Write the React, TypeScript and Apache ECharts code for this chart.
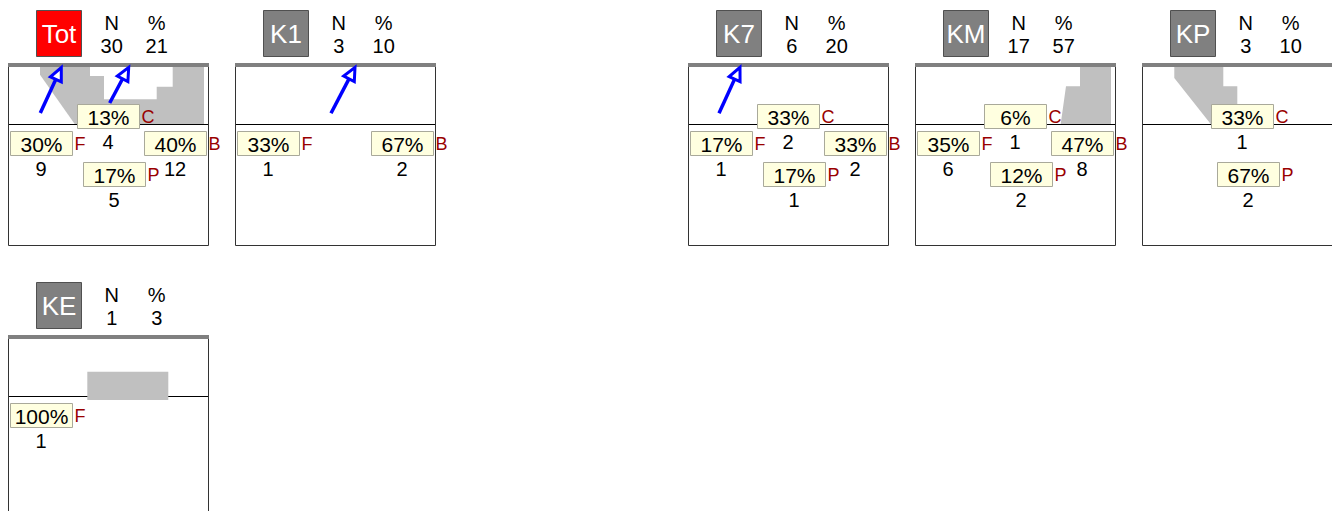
import React, { useEffect, useRef } from "react";
import * as echarts from "echarts";

// ---- data ----
const panelNames = ["Tot", "K1", "K7", "KM", "KP", "KE"];
const panelN = [30, 3, 6, 17, 3, 1];
const panelPct = [21, 10, 20, 57, 10, 3];
const panelSlot = [0, 1, 3, 4, 5, 0];
const panelRow = [0, 0, 0, 0, 0, 1];
const panelTitleColor = ["#FF0000", "#808080", "#808080", "#808080", "#808080", "#808080"];

const catLetters = ["F", "C", "B", "P"];
const countF = [9, 1, 1, 6, 0, 1];
const countC = [4, 0, 2, 1, 1, 0];
const countB = [12, 2, 2, 8, 0, 0];
const countP = [5, 0, 1, 2, 2, 0];
const pctF = [30, 33, 17, 35, 0, 100];
const pctC = [13, 0, 33, 6, 33, 0];
const pctB = [40, 67, 33, 47, 0, 0];
const pctP = [17, 0, 17, 12, 67, 0];

// flow shapes in panel units (x 0..200, y 0..182)
const flowTot = [[32, 0], [196, 0], [196, 61], [66.7, 61], [32, 11.7]];
const holeTot = [[82, 4], [164.7, 4], [164.7, 23.7], [148.7, 23.7], [148.7, 36.3], [96, 36.3], [96, 13], [82, 13]];
const flowKM = [[165, 0], [196, 0], [196, 61], [145.7, 61], [151, 23.3], [165, 23.3]];
const flowKP = [[32.3, 0], [81.3, 0], [81.3, 23.3], [95.3, 23.3], [95.3, 50], [80, 61], [68.7, 61], [32.3, 15]];
const flowKE = [[79.3, 36.7], [160.3, 36.7], [160.3, 65], [79.3, 65]];
const panelFlows: number[][][][] = [[flowTot], [], [], [flowKM], [flowKP], [flowKE]];
const panelHoles: number[][][][] = [[holeTot], [], [], [], [], []];

const arrowsTot = [[[32.3, 50], [53.3, 4.5]], [[101.7, 40], [120.7, 4.3]]];
const arrowsK1 = [[[96, 50.3], [120, 4.3]]];
const arrowsK7 = [[[31, 50.3], [52, 4.3]]];
const panelArrows = [arrowsTot, arrowsK1, arrowsK7, [], [], []];

// ---- layout / style ----
const PANEL_W = 200;
const PANEL_H = 182;
const SLOT_W = 226.8;
const ROW_H = 272;
const ORIGIN_X = 8;
const ORIGIN_Y = 63;
const DIVIDER_Y = 61;
const boxPos = [[2, 68], [69, 41], [136, 68], [75, 99]];
const BOX_W = 62;
const BOX_H = 24;
const FONT = "Liberation Sans, Arial, sans-serif";

function App() {
  const ref = useRef<HTMLDivElement>(null);
  useEffect(() => {
    if (!ref.current) return;
    const chart = echarts.init(ref.current, null, { renderer: "svg" });

    const grids: any[] = [];
    const xAxes: any[] = [];
    const yAxes: any[] = [];
    const series: any[] = [];
    const counts = [countF, countC, countB, countP];
    const pcts = [pctF, pctC, pctB, pctP];

    panelNames.forEach((name, p) => {
      grids.push({
        left: Math.round(ORIGIN_X + panelSlot[p] * SLOT_W),
        top: ORIGIN_Y + panelRow[p] * ROW_H,
        width: PANEL_W,
        height: PANEL_H,
        containLabel: false,
        outerBoundsMode: "none",
      });
      xAxes.push({ type: "value", gridIndex: p, min: 0, max: PANEL_W, show: false });
      yAxes.push({ type: "value", gridIndex: p, min: 0, max: PANEL_H, inverse: true, show: false });

      // chrome series
      series.push({
        type: "custom",
        xAxisIndex: p,
        yAxisIndex: p,
        clip: false,
        silent: true,
        z: 2,
        data: [[0, 0]],
        renderItem: (params: any, api: any) => {
          const C = (x: number, y: number) => api.coord([x, y]);
          const o = C(0, 0);
          const ox = Math.round(o[0]);
          const oy = Math.round(o[1]);
          const ch: any[] = [];
          // divider
          ch.push({
            type: "line",
            shape: { x1: ox, y1: oy + DIVIDER_Y + 0.5, x2: ox + PANEL_W, y2: oy + DIVIDER_Y + 0.5 },
            style: { stroke: "#000", lineWidth: 1 },
          });
          panelFlows[p].forEach((poly) => {
            ch.push({
              type: "polygon",
              shape: { points: poly.map((pt) => C(pt[0], pt[1])) },
              style: { fill: "#C0C0C0" },
            });
          });
          panelHoles[p].forEach((poly) => {
            ch.push({
              type: "polygon",
              shape: { points: poly.map((pt) => C(pt[0], pt[1])) },
              style: { fill: "#FFFFFF" },
            });
          });
          // frame
          ch.push({
            type: "rect",
            shape: { x: ox + 0.5, y: oy + 0.5, width: PANEL_W, height: PANEL_H },
            style: { fill: "none", stroke: "#333", lineWidth: 1 },
          });
          // top bar
          ch.push({
            type: "rect",
            shape: { x: ox, y: oy, width: PANEL_W + 1, height: 4 },
            style: { fill: "#808080" },
          });
          // arrows
          panelArrows[p].forEach((a) => {
            const t = C(a[0][0], a[0][1]);
            const h = C(a[1][0], a[1][1]);
            const dx = h[0] - t[0];
            const dy = h[1] - t[1];
            const len = Math.sqrt(dx * dx + dy * dy);
            const ux = dx / len;
            const uy = dy / len;
            const hl = 13;
            const hw = 6;
            const bx = h[0] - ux * hl;
            const by = h[1] - uy * hl;
            ch.push({
              type: "line",
              shape: { x1: t[0], y1: t[1], x2: bx, y2: by },
              style: { stroke: "#0000FF", lineWidth: 3.5 },
            });
            ch.push({
              type: "polygon",
              shape: {
                points: [
                  [h[0], h[1]],
                  [bx - uy * hw, by + ux * hw],
                  [bx + uy * hw, by - ux * hw],
                ],
              },
              style: { fill: "#FFFFFF", stroke: "#0000FF", lineWidth: 3, lineJoin: "miter" },
            });
          });
          // title box
          ch.push({
            type: "rect",
            shape: { x: ox + 28.5, y: oy - 52.5, width: 45, height: 46 },
            style: { fill: panelTitleColor[p], stroke: "#505050", lineWidth: 1 },
          });
          ch.push({
            type: "text",
            x: ox + 51,
            y: oy - 29,
            style: { text: name, fill: "#FFFFFF", font: `26px ${FONT}`, align: "center", verticalAlign: "middle" },
          });
          const hdr = (txt: string, x: number, y: number) =>
            ch.push({
              type: "text",
              x: ox + x,
              y: oy + y,
              style: { text: txt, fill: "#000", font: `20px ${FONT}`, align: "center", verticalAlign: "middle" },
            });
          hdr("N", 103.7, -40);
          hdr(String(panelN[p]), 103.7, -17);
          hdr("%", 148.7, -40);
          hdr(String(panelPct[p]), 148.7, -17);
          return { type: "group", children: ch };
        },
      });

      // category label series
      const labelData: number[][] = [];
      for (let c = 0; c < 4; c++) {
        if (counts[c][p] > 0) labelData.push([c, counts[c][p], pcts[c][p]]);
      }
      series.push({
        type: "custom",
        xAxisIndex: p,
        yAxisIndex: p,
        clip: false,
        silent: true,
        z: 5,
        data: labelData,
        encode: { x: -1, y: -1 },
        renderItem: (params: any, api: any) => {
          const c = api.value(0);
          const count = api.value(1);
          const pct = api.value(2);
          const pos = boxPos[c];
          const tl = api.coord([pos[0], pos[1]]);
          const x = Math.round(tl[0]);
          const y = Math.round(tl[1]);
          return {
            type: "group",
            children: [
              {
                type: "rect",
                shape: { x: x + 0.5, y: y + 0.5, width: BOX_W, height: BOX_H },
                style: { fill: "#FFFFE0", stroke: "#A9A99A", lineWidth: 1 },
              },
              {
                type: "text",
                x: x + BOX_W / 2 + 0.5,
                y: y + BOX_H / 2 + 1.5,
                style: { text: `${pct}%`, fill: "#000", font: `21px ${FONT}`, align: "center", verticalAlign: "middle" },
              },
              {
                type: "text",
                x: x + BOX_W + 2.5,
                y: y + BOX_H / 2 + 1,
                style: { text: catLetters[c], fill: "#990000", font: `18px ${FONT}`, align: "left", verticalAlign: "middle" },
              },
              {
                type: "text",
                x: x + BOX_W / 2,
                y: y + BOX_H + 13.5,
                style: { text: String(count), fill: "#000", font: `20px ${FONT}`, align: "center", verticalAlign: "middle" },
              },
            ],
          };
        },
      });
    });

    chart.setOption({
      animation: false,
      backgroundColor: "#FFFFFF",
      grid: grids,
      xAxis: xAxes,
      yAxis: yAxes,
      series,
    });
    return () => chart.dispose();
  }, []);
  return (
    <div
      ref={ref}
      style={{ position: "absolute", left: 0, top: 0, width: 1332, height: 511 }}
    />
  );
}

export default App;
